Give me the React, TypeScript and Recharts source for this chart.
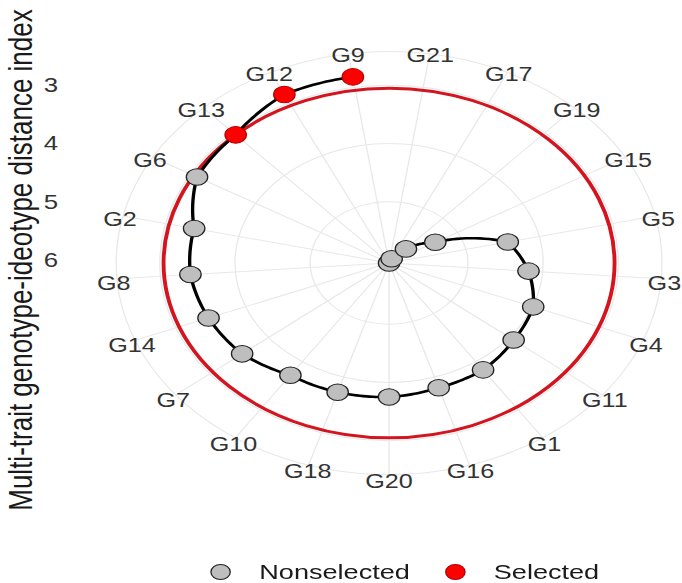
import React from 'react';
import { RadarChart, Radar, PolarGrid, PolarAngleAxis, PolarRadiusAxis } from 'recharts';

// genotypes in the clockwise order they sit around the circle
const genotypes = [
  'G9', 'G21', 'G17', 'G19', 'G15', 'G5', 'G3', 'G4', 'G11', 'G1', 'G16',
  'G20', 'G18', 'G10', 'G7', 'G14', 'G8', 'G2', 'G6', 'G13', 'G12',
];
const mgidi = [
  2.82, 6.05, 5.97, 5.72, 5.34, 4.43, 4.19, 3.99, 3.93, 3.83, 3.81,
  3.75, 3.73, 3.72, 3.55, 3.47, 3.4, 3.39, 3.1, 3.05, 2.84,
];
const selectedGenotypes = ['G9', 'G12', 'G13'];
const radiusTicks = [3, 4, 5, 6];
const radiusDomain = [2.42, 6.05];
const legendLabels = ['Nonselected', 'Selected'];

const cutpoint = Math.max(
  ...mgidi.filter((_, i) => selectedGenotypes.includes(genotypes[i]))
);

const data = genotypes.map((g, i) => ({
  genotype: g,
  mgidi: mgidi[i],
  cutpoint,
  frame: radiusDomain[0],
  selected: selectedGenotypes.includes(g),
}));

const SX = 1.29;
const W = 529;
const H = 583;
const CX = 301.6;
const CY = 263;
const R = 236; // radius axis span (domain gets floored to a whole number)
const START = 90 + 180 / genotypes.length;
const FONT = '"Liberation Sans", Arial, Helvetica, sans-serif';

const GRID = '#e8e8e8';
const GRAY = '#bebebe';
const RED = '#ff0000';

// spokes + outer ring, ending at the edge of the radius domain
function GridFrame(props: any) {
  const pts = props.points || [];
  if (!pts.length) return <g />;
  const { cx, cy, radius } = pts[0];
  return (
    <g>
      {pts.map((p: any, i: number) => (
        <line key={i} x1={cx} y1={cy} x2={p.x} y2={p.y} stroke={GRID} strokeWidth={1} />
      ))}
      <circle cx={cx} cy={cy} r={radius} fill="none" stroke={GRID} strokeWidth={1} />
    </g>
  );
}

// path joins genotypes by ranking (lowest index first), bent along the polar grid
function SpiralPath(props: any) {
  const pts = (props.points || []).slice().sort((a: any, b: any) => a.value - b.value);
  if (!pts.length) return <g />;
  const { cx, cy } = pts[0];
  let d = `M${pts[0].x},${pts[0].y}`;
  for (let i = 1; i < pts.length; i++) {
    const q = pts[i - 1];
    const p = pts[i];
    let da = p.angle - q.angle;
    while (da > 180) da -= 360;
    while (da < -180) da += 360;
    for (let k = 1; k <= 16; k++) {
      const t = k / 16;
      const a = ((q.angle + da * t) * Math.PI) / 180;
      const r = q.radius + (p.radius - q.radius) * t;
      d += `L${cx + r * Math.cos(a)},${cy - r * Math.sin(a)}`;
    }
  }
  return <path d={d} fill="none" stroke="#000" strokeWidth={2.6} strokeLinejoin="round" />;
}

function CutCircle(props: any) {
  const p = props.points && props.points[0];
  if (!p) return <g />;
  return <circle cx={p.cx} cy={p.cy} r={p.radius} fill="none" stroke="#d2151f" strokeWidth={3} />;
}

function GenotypeDot(props: any) {
  const row = (props.payload && props.payload.payload) || props.payload || {};
  const sel = row.selected;
  return (
    <circle
      cx={props.cx}
      cy={props.cy}
      r={8.3}
      fill={sel ? RED : GRAY}
      stroke={sel ? '#b30000' : '#222'}
      strokeWidth={1}
    />
  );
}

function AngleTick(props: any) {
  const { x, y, payload } = props;
  return (
    <text x={x} y={y + 4.5} textAnchor="middle" dominantBaseline="central" fontSize={19.5} fill="#333" fontFamily={FONT}>
      {payload.value}
    </text>
  );
}

function RadiusTick(props: any) {
  const { y, payload } = props;
  const v = Math.round(payload.value * 1000) / 1000;
  if (!radiusTicks.includes(v)) return <g />;
  return (
    <text x={45} y={y} textAnchor="end" dominantBaseline="central" fontSize={20} fill="#333" fontFamily={FONT}>
      {v}
    </text>
  );
}

export default function App() {
  return (
    <div
      style={{
        position: 'absolute',
        left: 0,
        top: 0,
        width: W,
        height: H,
        transform: `scaleX(${SX})`,
        transformOrigin: '0 0',
        fontFamily: FONT,
        background: '#fff',
      }}
    >
      <RadarChart
        width={W}
        height={H}
        data={data}
        cx={CX}
        cy={CY}
        outerRadius={R}
        innerRadius={0}
        startAngle={START}
        endAngle={START - 360}
        margin={{ top: 0, right: 0, bottom: 0, left: 0 }}
      >
        <PolarGrid gridType="circle" stroke={GRID} strokeWidth={1} radialLines={false} />
        <PolarAngleAxis
          dataKey="genotype"
          tick={<AngleTick />}
          tickLine={false}
          tickSize={-22}
          axisLine={false}
        />
        <PolarRadiusAxis
          angle={90}
          type="number"
          domain={radiusDomain}
          ticks={radiusTicks as any}
          reversed
          allowDataOverflow
          tick={<RadiusTick />}
          axisLine={false}
          tickLine={false}
        />
        <Radar dataKey="frame" shape={<GridFrame />} dot={false} isAnimationActive={false} />
        <Radar dataKey="cutpoint" shape={<CutCircle />} dot={false} isAnimationActive={false} />
        <Radar dataKey="mgidi" shape={<SpiralPath />} dot={<GenotypeDot />} isAnimationActive={false} />
      </RadarChart>

      <div
        style={{
          position: 'absolute',
          left: 15.5,
          top: 260,
          transform: 'translate(-50%, -50%) rotate(-90deg)',
          whiteSpace: 'nowrap',
          fontSize: 26,
          color: '#1a1a1a',
        }}
      >
        Multi-trait genotype-ideotype distance index
      </div>

      <div
        style={{
          position: 'absolute',
          left: 163,
          top: 559,
          height: 26,
          display: 'flex',
          alignItems: 'center',
          fontSize: 21,
          color: '#1a1a1a',
        }}
      >
        {legendLabels.map((lab, i) => (
          <div key={lab} style={{ display: 'flex', alignItems: 'center', marginRight: i === 0 ? 27 : 0 }}>
            <div
              style={{
                width: 14,
                height: 14,
                borderRadius: '50%',
                background: i === 0 ? GRAY : RED,
                border: i === 0 ? '1px solid #222' : '1px solid #b30000',
                marginRight: 22,
              }}
            />
            <span>{lab}</span>
          </div>
        ))}
      </div>
    </div>
  );
}
